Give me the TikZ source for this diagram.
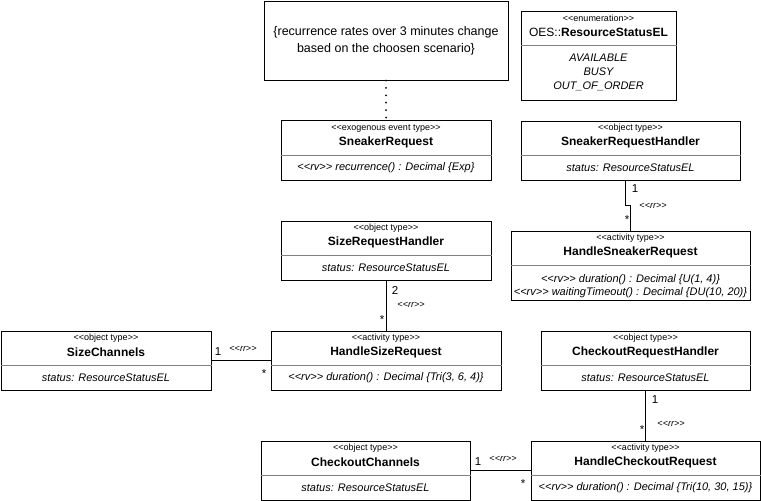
\documentclass[tikz,border=0pt]{standalone}
\usepackage{fontspec}
\setmainfont{Liberation Sans}
\usepackage{tikz}
\usetikzlibrary{calc}

\newcommand{\stereo}[1]{<\kern0pt<#1>\kern0pt>}

\tikzstyle{tsBox} = [
    rectangle,
    draw=black,
    line width=1pt,
    fill=white,
    inner sep=0pt
]
\tikzstyle{tsDivider} = [
    draw=black!50,
    line width=0.8pt
]
\tikzstyle{tsLink} = [
    draw=black,
    line width=1pt
]
\tikzstyle{tsDotted} = [
    draw=black,
    line width=2pt,
    line cap=round,
    dash pattern=on 0pt off 7.4pt
]
\tikzstyle{tsStereo} = [
    text=black,
    inner sep=0pt,
    font=\fontsize{9}{10}\selectfont
]
\tikzstyle{tsName} = [
    text=black,
    inner sep=0pt,
    font=\bfseries\fontsize{12}{14}\selectfont
]
\tikzstyle{tsAttr} = [
    text=black,
    inner sep=0pt,
    align=center,
    font=\itshape\fontsize{11}{13}\selectfont
]
\tikzstyle{tsMult} = [
    text=black,
    inner sep=0pt,
    font=\fontsize{11.5}{13}\selectfont
]
\tikzstyle{tsRole} = [
    text=black,
    inner sep=0pt,
    font=\itshape\fontsize{9}{10}\selectfont
]

\begin{document}
\begin{tikzpicture}[x=1pt, y=1pt]

        \useasboundingbox (0,0) rectangle (761,-501);

        % constraint note
        \node[  tsBox,
                minimum width=244,
                minimum height=79,
                align=center,
                font=\fontsize{12.5}{17}\selectfont] (note) at (386,-40.5)
                {\{recurrence rates over 3 minutes change\\based on the choosen scenario\}};

        % enumeration
        \node[tsBox, minimum width=155, minimum height=89] (resourceStatus) at (598.5,-55.5) {};
        \draw[tsDivider] (resourceStatus.west |- 0,-45) -- (resourceStatus.east |- 0,-45);
        \node[tsStereo] (resourceStatusStereo) at (598.5,-18) {\stereo{enumeration}};
        \node[tsName, font=\fontsize{12}{14}\selectfont] (resourceStatusName) at (598.5,-32) {OES::\textbf{ResourceStatusEL}};
        \node[tsAttr, font=\itshape\fontsize{11}{14}\selectfont] (resourceStatusItems) at (598.5,-72) {AVAILABLE\\BUSY\\OUT\_OF\_ORDER};

        % SneakerRequest
        \node[tsBox, minimum width=210, minimum height=60] (sneakerRequest) at (386,-150) {};
        \draw[tsDivider] (sneakerRequest.west |- 0,-155) -- (sneakerRequest.east |- 0,-155);
        \node[tsStereo] (sneakerRequestStereo) at (386,-129) {\stereo{exogenous event type}};
        \node[tsName] (sneakerRequestName) at (386,-142) {SneakerRequest};
        \node[tsAttr] (sneakerRequestAttr) at (386,-168) {\stereo{rv} recurrence() : Decimal \{Exp\}};

        % SneakerRequestHandler
        \node[tsBox, minimum width=219, minimum height=59] (sneakerHandler) at (630.5,-150.5) {};
        \draw[tsDivider] (sneakerHandler.west |- 0,-155) -- (sneakerHandler.east |- 0,-155);
        \node[tsStereo] (sneakerHandlerStereo) at (630.5,-128) {\stereo{object type}};
        \node[tsName] (sneakerHandlerName) at (630.5,-142) {SneakerRequestHandler};
        \node[tsAttr] (sneakerHandlerAttr) at (630.5,-168) {status: ResourceStatusEL};

        % HandleSneakerRequest
        \node[tsBox, minimum width=239, minimum height=69] (handleSneaker) at (630.5,-265.5) {};
        \draw[tsDivider] (handleSneaker.west |- 0,-265) -- (handleSneaker.east |- 0,-265);
        \node[tsStereo] (handleSneakerStereo) at (630.5,-238) {\stereo{activity type}};
        \node[tsName] (handleSneakerName) at (630.5,-252) {HandleSneakerRequest};
        \node[tsAttr] (handleSneakerAttr) at (630.5,-286.5)
                {\stereo{rv} duration() : Decimal \{U(1, 4)\}\\\stereo{rv} waitingTimeout() : Decimal \{DU(10, 20)\}};

        % SizeRequestHandler
        \node[tsBox, minimum width=210, minimum height=59] (sizeHandler) at (386,-250.5) {};
        \draw[tsDivider] (sizeHandler.west |- 0,-255) -- (sizeHandler.east |- 0,-255);
        \node[tsStereo] (sizeHandlerStereo) at (386,-228) {\stereo{object type}};
        \node[tsName] (sizeHandlerName) at (386,-242) {SizeRequestHandler};
        \node[tsAttr] (sizeHandlerAttr) at (386,-268) {status: ResourceStatusEL};

        % HandleSizeRequest
        \node[tsBox, minimum width=230, minimum height=59] (handleSize) at (386,-360.5) {};
        \draw[tsDivider] (handleSize.west |- 0,-365) -- (handleSize.east |- 0,-365);
        \node[tsStereo] (handleSizeStereo) at (386,-338) {\stereo{activity type}};
        \node[tsName] (handleSizeName) at (386,-352) {HandleSizeRequest};
        \node[tsAttr] (handleSizeAttr) at (386,-378) {\stereo{rv} duration() : Decimal \{Tri(3, 6, 4)\}};

        % SizeChannels
        \node[tsBox, minimum width=210, minimum height=59] (sizeChannels) at (106,-360.5) {};
        \draw[tsDivider] (sizeChannels.west |- 0,-365) -- (sizeChannels.east |- 0,-365);
        \node[tsStereo] (sizeChannelsStereo) at (106,-338) {\stereo{object type}};
        \node[tsName] (sizeChannelsName) at (106,-352) {SizeChannels};
        \node[tsAttr] (sizeChannelsAttr) at (106,-378) {status: ResourceStatusEL};

        % CheckoutRequestHandler
        \node[tsBox, minimum width=209, minimum height=59] (checkoutHandler) at (645.5,-360.5) {};
        \draw[tsDivider] (checkoutHandler.west |- 0,-365) -- (checkoutHandler.east |- 0,-365);
        \node[tsStereo] (checkoutHandlerStereo) at (645.5,-338) {\stereo{object type}};
        \node[tsName] (checkoutHandlerName) at (645.5,-352) {CheckoutRequestHandler};
        \node[tsAttr] (checkoutHandlerAttr) at (645.5,-378) {status: ResourceStatusEL};

        % HandleCheckoutRequest
        \node[tsBox, minimum width=229, minimum height=59] (handleCheckout) at (645.5,-470.5) {};
        \draw[tsDivider] (handleCheckout.west |- 0,-475) -- (handleCheckout.east |- 0,-475);
        \node[tsStereo] (handleCheckoutStereo) at (645.5,-448) {\stereo{activity type}};
        \node[tsName] (handleCheckoutName) at (645.5,-462) {HandleCheckoutRequest};
        \node[tsAttr] (handleCheckoutAttr) at (645.5,-488) {\stereo{rv} duration() : Decimal \{Tri(10, 30, 15)\}};

        % CheckoutChannels
        \node[tsBox, minimum width=209, minimum height=59] (checkoutChannels) at (365.5,-470.5) {};
        \draw[tsDivider] (checkoutChannels.west |- 0,-475) -- (checkoutChannels.east |- 0,-475);
        \node[tsStereo] (checkoutChannelsStereo) at (365.5,-448) {\stereo{object type}};
        \node[tsName] (checkoutChannelsName) at (365.5,-462) {CheckoutChannels};
        \node[tsAttr] (checkoutChannelsAttr) at (365.5,-488) {status: ResourceStatusEL};

        % connectors
        \draw[tsDotted] (note.south) -- (sneakerRequest.north);
        \draw[tsLink] ([xshift=-5.5pt]sneakerHandler.south) -- ++(0,-25) -| (handleSneaker.north);
        \draw[tsLink] (sizeHandler.south) -- (handleSize.north);
        \draw[tsLink] (sizeChannels.east) -- (handleSize.west);
        \draw[tsLink] (checkoutHandler.south) -- (handleCheckout.north);
        \draw[tsLink] (checkoutChannels.east) -- (handleCheckout.west);

        % multiplicities and roles
        \node[tsMult] (sneakerOne) at (635,-189) {1};
        \node[tsRole] (sneakerRole) at (653,-206) {\stereo{rr}};
        \node[tsMult] (sneakerMany) at (627,-220) {*};

        \node[tsMult] (sizeTwo) at (395,-290) {2};
        \node[tsRole] (sizeRole) at (411,-305) {\stereo{rr}};
        \node[tsMult] (sizeMany) at (382,-320) {*};

        \node[tsMult] (channelsOne) at (218,-352) {1};
        \node[tsRole] (channelsRole) at (243,-349) {\stereo{rr}};
        \node[tsMult] (channelsMany) at (264,-374) {*};

        \node[tsMult] (checkoutOne) at (655,-400) {1};
        \node[tsRole] (checkoutRole) at (671,-424) {\stereo{rr}};
        \node[tsMult] (checkoutMany) at (642,-430) {*};

        \node[tsMult] (checkoutChannelsOne) at (478,-462) {1};
        \node[tsRole] (checkoutChannelsRole) at (503,-459) {\stereo{rr}};
        \node[tsMult] (checkoutChannelsMany) at (523,-484) {*};

\end{tikzpicture}
\end{document}
